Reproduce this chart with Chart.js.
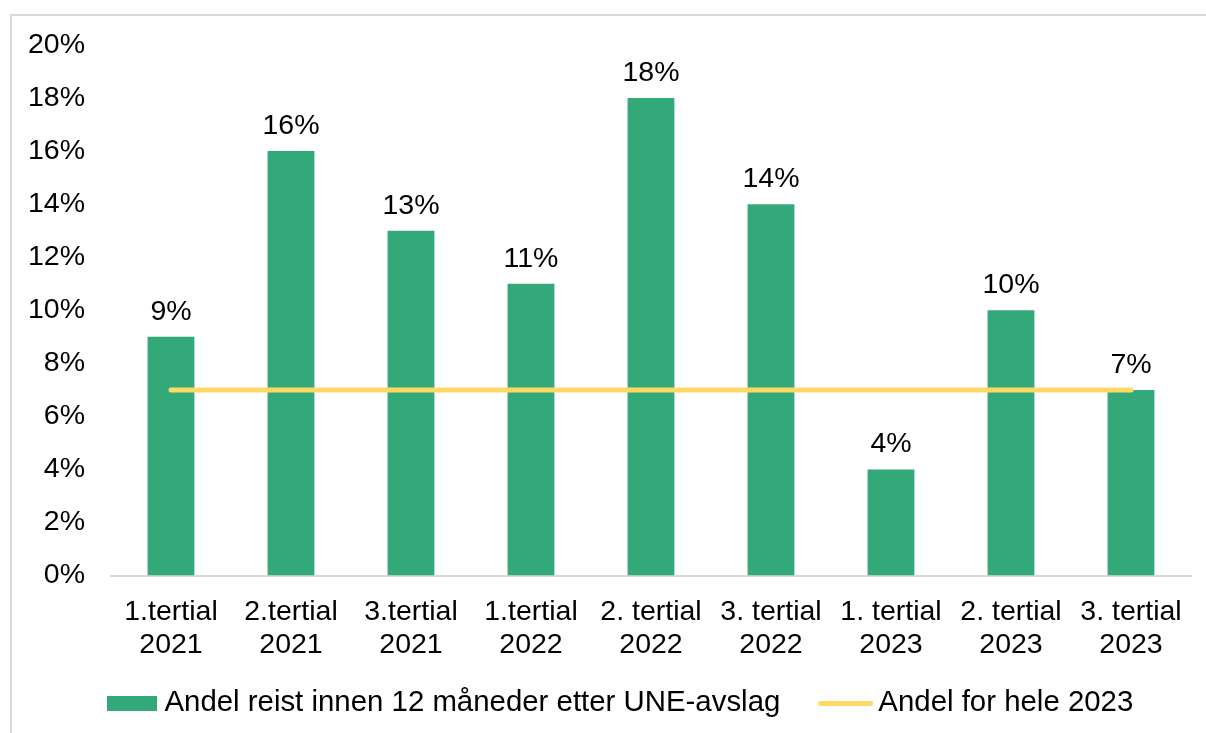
<!DOCTYPE html>
<html>
<head>
<meta charset="utf-8">
<script src="https://cdn.jsdelivr.net/npm/chart.js@4/dist/chart.umd.min.js"></script>
<style>
  html, body { margin: 0; padding: 0; background: #fff; overflow: hidden; }
  #frame { position: absolute; left: 10px; top: 14px; width: 1220px; height: 740px; border: 2px solid #d9d9d9; }
  #wrap { position: absolute; left: 0; top: 0; width: 1206px; height: 733px; }
</style>
</head>
<body>
<div id="frame"></div>
<div id="wrap"><canvas id="chart" width="1206" height="733"></canvas></div>
<script>
const categories = [
  ["1.tertial", "2021"], ["2.tertial", "2021"], ["3.tertial", "2021"],
  ["1.tertial", "2022"], ["2. tertial", "2022"], ["3. tertial", "2022"],
  ["1. tertial", "2023"], ["2. tertial", "2023"], ["3. tertial", "2023"]
];
const shareTravelled = [9, 16, 13, 11, 18, 14, 4, 10, 7];
const share2023 = [7, 7, 7, 7, 7, 7, 7, 7, 7];
const seriesNames = ["Andel reist innen 12 måneder etter UNE-avslag", "Andel for hele 2023"];

const GREEN = "#33a97a";
const YELLOW = "#ffd966";
const FONT = "'Liberation Sans', Arial, sans-serif";
const FONT_SIZE = 28.5;

Chart.defaults.font.family = FONT;
Chart.defaults.font.size = FONT_SIZE;
Chart.defaults.color = "#000";

// legend markers drawn as small canvases
const makeMarker = (w, h, color, round) => {
  const c = document.createElement("canvas");
  c.width = w; c.height = h;
  const g = c.getContext("2d");
  g.fillStyle = color;
  if (round) {
    g.beginPath();
    g.moveTo(h / 2, 0); g.lineTo(w - h / 2, 0);
    g.arc(w - h / 2, h / 2, h / 2, -Math.PI / 2, Math.PI / 2);
    g.lineTo(h / 2, h);
    g.arc(h / 2, h / 2, h / 2, Math.PI / 2, Math.PI * 1.5);
    g.fill();
  } else {
    g.fillRect(0, 0, w, h);
  }
  return c;
};
const barMarker = makeMarker(50, 15, GREEN, false);
const lineMarker = makeMarker(55, 5, YELLOW, true);

const valueLabels = {
  id: "valueLabels",
  afterDatasetsDraw(chart) {
    const ctx = chart.ctx;
    const meta = chart.getDatasetMeta(0);
    ctx.save();
    ctx.font = FONT_SIZE + "px " + FONT;
    ctx.fillStyle = "#000";
    ctx.textAlign = "center";
    ctx.textBaseline = "alphabetic";
    meta.data.forEach((bar, i) => {
      ctx.fillText(shareTravelled[i] + "%", bar.x, bar.y - 17);
    });
    ctx.restore();
  }
};

// nudge the legend a bit to the right, like the original
const legendShift = {
  id: "legendShift",
  afterLayout(chart) {
    chart.legend.left += 14;
    chart.legend.right += 14;
  }
};

new Chart(document.getElementById("chart").getContext("2d"), {
  type: "bar",
  data: {
    labels: categories,
    datasets: [
      {
        label: seriesNames[0],
        data: shareTravelled,
        backgroundColor: GREEN,
        barPercentage: 0.39,
        categoryPercentage: 1,
        order: 2,
      },
      {
        type: "line",
        label: seriesNames[1],
        data: share2023,
        borderColor: YELLOW,
        borderWidth: 5,
        borderCapStyle: "round",
        pointRadius: 0,
        fill: false,
        order: 1,
      },
    ],
  },
  options: {
    responsive: false,
    animation: false,
    layout: { padding: { top: 45, left: 28, right: 15, bottom: 5 } },
    scales: {
      x: {
        grid: { display: false, drawTicks: false },
        border: { display: true, color: "#d9d9d9", width: 2 },
        ticks: { padding: 20, maxRotation: 0, autoSkip: false, font: { lineHeight: 1.15 } },
        afterFit: (scale) => { scale.height = 82; },
      },
      y: {
        min: 0,
        max: 20,
        grid: { display: false, drawTicks: false },
        border: { display: false },
        ticks: { stepSize: 2, padding: 26, callback: (v) => v + "%" },
        afterFit: (scale) => { scale.width = 83; },
      },
    },
    plugins: {
      tooltip: { enabled: false },
      legend: {
        position: "bottom",
        labels: {
          usePointStyle: true,
          pointStyleWidth: 36,
          boxHeight: 15,
          padding: 31,
          font: { size: 29.4 },
          generateLabels: () => [
            { text: seriesNames[0] + "  ", pointStyle: barMarker, fillStyle: GREEN, strokeStyle: GREEN, lineWidth: 0, datasetIndex: 0 },
            { text: seriesNames[1], pointStyle: lineMarker, fillStyle: YELLOW, strokeStyle: YELLOW, lineWidth: 0, datasetIndex: 1 },
          ],
        },
      },
    },
  },
  plugins: [valueLabels, legendShift],
});
</script>
</body>
</html>
